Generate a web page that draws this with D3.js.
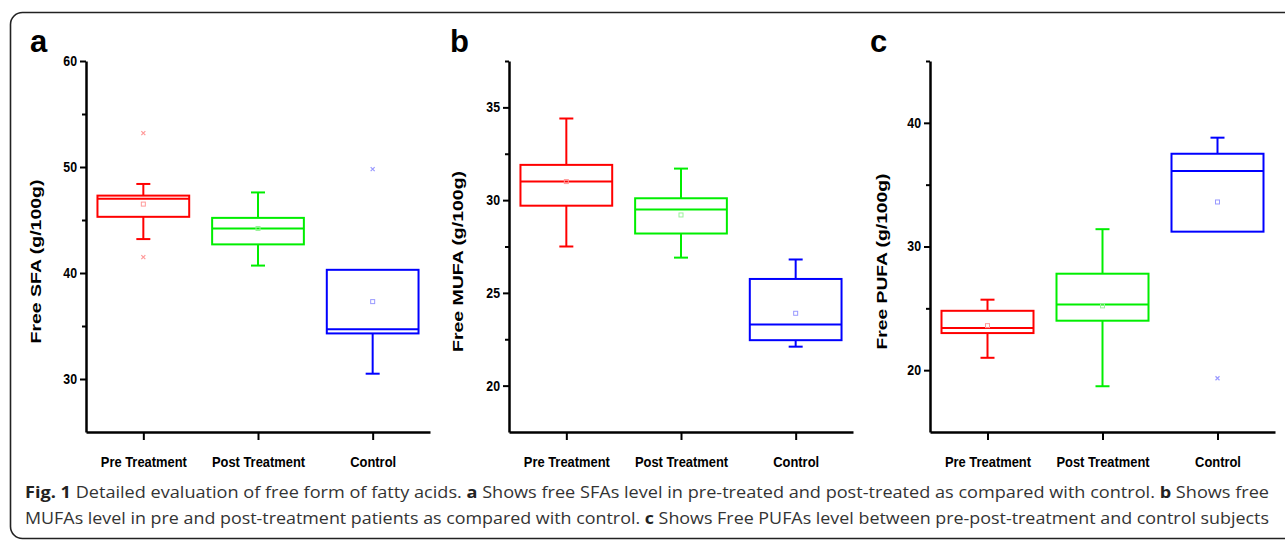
<!DOCTYPE html>
<html>
<head>
<meta charset="utf-8">
<script src="https://cdn.jsdelivr.net/npm/d3@7"></script>
<style>
  html, body { margin: 0; padding: 0; background: #fff; }
  svg { display: block; }
</style>
</head>
<body>
<svg id="chart" width="1285" height="540"></svg>
<script>
// ---------- DATA ----------
const categories = ["Pre Treatment", "Post Treatment", "Control"];
const groupColors = ["#ff0000", "#00ee00", "#0000ff"];
const lightColors = ["#ff9a9a", "#9af29a", "#9a9aff"];

// Panel a: Free SFA
const sfaLow    = [43.2, 40.7, 30.5];
const sfaQ1     = [45.3, 42.7, 34.3];
const sfaMedian = [47.0, 44.2, 34.7];
const sfaQ3     = [47.3, 45.2, 40.3];
const sfaHigh   = [48.4, 47.6, 40.3];
const sfaMean   = [46.5, 44.2, 37.3];
const sfaOutliers = [[53.2, 41.5], [], [49.8]];
const sfaDomain = [25, 60];
const sfaTicks = [30, 40, 50, 60];
const sfaMinor = [35, 45, 55];

// Panel b: Free MUFA
const mufaLow    = [27.5, 26.9, 22.1];
const mufaQ1     = [29.7, 28.2, 22.45];
const mufaMedian = [31.0, 29.5, 23.3];
const mufaQ3     = [31.9, 30.1, 25.75];
const mufaHigh   = [34.4, 31.7, 26.8];
const mufaMean   = [31.0, 29.2, 23.9];
const mufaOutliers = [[], [], []];
const mufaDomain = [17.5, 37.5];
const mufaTicks = [20, 25, 30, 35];
const mufaMinor = [22.5, 27.5, 32.5, 37.5];

// Panel c: Free PUFA
const pufaLow    = [21.0, 18.7, 31.2];
const pufaQ1     = [23.0, 24.0, 31.2];
const pufaMedian = [23.4, 25.3, 36.1];
const pufaQ3     = [24.8, 27.8, 37.5];
const pufaHigh   = [25.7, 31.4, 38.8];
const pufaMean   = [23.6, 25.2, 33.6];
const pufaOutliers = [[], [], [19.35]];
const pufaDomain = [15, 45];
const pufaTicks = [20, 30, 40];
const pufaMinor = [25, 35, 45];

const panelLetters = ["a", "b", "c"];
const yTitles = ["Free SFA (g/100g)", "Free MUFA (g/100g)", "Free PUFA (g/100g)"];

const captionLine1 = [
  {t: "Fig. 1", b: true}, {t: " Detailed evaluation of free form of fatty acids. "},
  {t: "a", b: true}, {t: " Shows free SFAs level in pre-treated and post-treated as compared with control. "},
  {t: "b", b: true}, {t: " Shows free"}
];
const captionLine2 = [
  {t: "MUFAs level in pre and post-treatment patients as compared with control. "},
  {t: "c", b: true}, {t: " Shows Free PUFAs level between pre-post-treatment and control subjects"}
];

// ---------- LAYOUT ----------
const svg = d3.select("#chart");
const yTop = 61, yBottom = 432;

// frame
svg.append("rect")
  .attr("x", 10.5).attr("y", 12.5)
  .attr("width", 1300).attr("height", 526)
  .attr("rx", 12).attr("ry", 12)
  .attr("fill", "none").attr("stroke", "#222").attr("stroke-width", 1.6);

const panels = [
  {x0: 86, x1: 430, letterX: 30, titleX: 36,
   low: sfaLow, q1: sfaQ1, med: sfaMedian, q3: sfaQ3, high: sfaHigh, mean: sfaMean, out: sfaOutliers,
   domain: sfaDomain, ticks: sfaTicks, minor: sfaMinor},
  {x0: 509, x1: 853, letterX: 450, titleX: 458,
   low: mufaLow, q1: mufaQ1, med: mufaMedian, q3: mufaQ3, high: mufaHigh, mean: mufaMean, out: mufaOutliers,
   domain: mufaDomain, ticks: mufaTicks, minor: mufaMinor},
  {x0: 930, x1: 1275, letterX: 870, titleX: 882,
   low: pufaLow, q1: pufaQ1, med: pufaMedian, q3: pufaQ3, high: pufaHigh, mean: pufaMean, out: pufaOutliers,
   domain: pufaDomain, ticks: pufaTicks, minor: pufaMinor}
];

const axisFont = "'Liberation Sans', Arial, sans-serif";

function condense(sel, factor) {
  sel.each(function() {
    const w = this.getComputedTextLength();
    d3.select(this).attr("textLength", w * factor).attr("lengthAdjust", "spacingAndGlyphs");
  });
}

panels.forEach((p, pi) => {
  const g = svg.append("g");
  const x = d3.scalePoint().domain(categories).range([p.x0, p.x1]).padding(0.5);
  const y = d3.scaleLinear().domain(p.domain).range([yBottom, yTop]);
  const boxW = x.step() * 0.8;
  const capW = 14;

  g.append("text").attr("x", p.letterX).attr("y", 52)
    .attr("font-family", axisFont).attr("font-weight", "bold").attr("font-size", 31)
    .attr("fill", "#000").text(panelLetters[pi]);

  const yt = g.append("text")
    .attr("transform", `translate(${p.titleX + 5},${(yTop + yBottom) / 2 + 15}) rotate(-90)`)
    .attr("text-anchor", "middle")
    .attr("font-family", axisFont).attr("font-weight", "bold").attr("font-size", 15)
    .attr("fill", "#000").text(yTitles[pi]);

  const gMinor = g.append("g").attr("transform", `translate(${p.x0},0)`)
    .call(d3.axisLeft(y).tickValues(p.minor).tickSize(4).tickSizeOuter(0).tickFormat(""));
  gMinor.select(".domain").remove();
  gMinor.selectAll("line").attr("stroke", "#000").attr("stroke-width", 2);

  const gy = g.append("g").attr("transform", `translate(${p.x0},0)`)
    .call(d3.axisLeft(y).tickValues(p.ticks).tickSize(6).tickSizeOuter(0).tickPadding(3));
  gy.select(".domain").attr("stroke", "#000").attr("stroke-width", 2.5);
  gy.selectAll("line").attr("stroke", "#000").attr("stroke-width", 2);
  gy.selectAll("text").attr("font-family", axisFont).attr("font-weight", "bold")
    .attr("font-size", 14).attr("fill", "#000");
  condense(gy.selectAll("text"), 0.88);

  const gx = g.append("g").attr("transform", `translate(0,${yBottom})`)
    .call(d3.axisBottom(x).tickSize(8).tickSizeOuter(0).tickPadding(16));
  gx.select(".domain").attr("stroke", "#000").attr("stroke-width", 2.5);
  gx.selectAll("line").attr("stroke", "#000").attr("stroke-width", 2);
  gx.selectAll("text").attr("font-family", axisFont).attr("font-weight", "bold")
    .attr("font-size", 15).attr("fill", "#000");
  condense(gx.selectAll("text"), 0.86);

  categories.forEach((c, i) => {
    const cx = x(c);
    const col = groupColors[i];
    const bg = g.append("g").attr("stroke", col).attr("stroke-width", 2).attr("fill", "none");
    bg.append("line").attr("x1", cx).attr("x2", cx).attr("y1", y(p.q3[i])).attr("y2", y(p.high[i]));
    bg.append("line").attr("x1", cx).attr("x2", cx).attr("y1", y(p.q1[i])).attr("y2", y(p.low[i]));
    if (p.high[i] > p.q3[i])
      bg.append("line").attr("x1", cx - capW / 2).attr("x2", cx + capW / 2).attr("y1", y(p.high[i])).attr("y2", y(p.high[i]));
    if (p.low[i] < p.q1[i])
      bg.append("line").attr("x1", cx - capW / 2).attr("x2", cx + capW / 2).attr("y1", y(p.low[i])).attr("y2", y(p.low[i]));
    bg.append("rect").attr("x", cx - boxW / 2).attr("y", y(p.q3[i]))
      .attr("width", boxW).attr("height", y(p.q1[i]) - y(p.q3[i]));
    bg.append("line").attr("x1", cx - boxW / 2).attr("x2", cx + boxW / 2)
      .attr("y1", y(p.med[i])).attr("y2", y(p.med[i]));
    g.append("rect").attr("x", cx - 2).attr("y", y(p.mean[i]) - 2).attr("width", 4).attr("height", 4)
      .attr("fill", "none").attr("stroke", lightColors[i]).attr("stroke-width", 1);
    p.out[i].forEach(v => {
      const oy = y(v);
      g.append("path").attr("d", `M${cx - 2},${oy - 2}L${cx + 2},${oy + 2}M${cx - 2},${oy + 2}L${cx + 2},${oy - 2}`)
        .attr("stroke", lightColors[i]).attr("stroke-width", 1.2);
    });
  });

  yt.attr("textLength", [164, 181, 176][pi]).attr("lengthAdjust", "spacingAndGlyphs");
});

// caption
const capFont = "'Open Sans', 'Noto Sans', sans-serif";
function captionLine(parts, yBase) {
  const t = svg.append("text").attr("x", 25).attr("y", yBase)
    .attr("font-family", capFont).attr("font-size", 16.5).attr("fill", "#333");
  t.selectAll("tspan").data(parts).join("tspan")
    .attr("font-weight", d => d.b ? "bold" : "normal")
    .attr("fill", d => d.b ? "#222" : "#333")
    .text(d => d.t);
  t.attr("textLength", 1244).attr("lengthAdjust", "spacingAndGlyphs");
}
captionLine(captionLine1, 498);
captionLine(captionLine2, 524);
</script>
</body>
</html>
